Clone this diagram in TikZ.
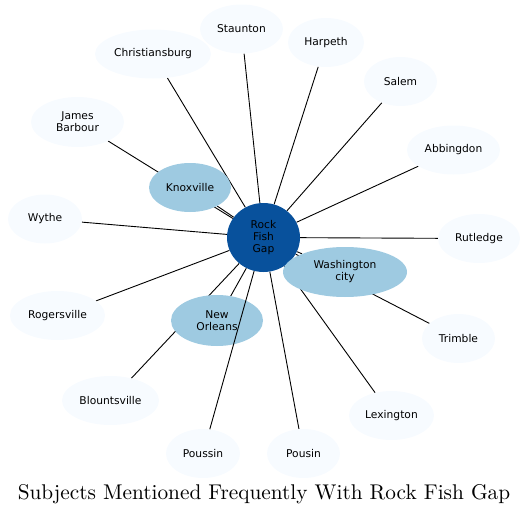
\documentclass[tikz,border=0pt]{standalone}
\usepackage{fontspec}
\newfontfamily\labelfont{DejaVu Sans}
\newfontfamily\titlefont{lmroman10-regular.otf}
\usetikzlibrary{shapes.geometric,backgrounds}
\definecolor{paleblue}{HTML}{F7FBFF}
\definecolor{midblue}{HTML}{9ECAE1}
\definecolor{darkblue}{HTML}{08519C}
\tikzset{
  subject/.style={ellipse,inner sep=0pt,align=center,fill=paleblue,minimum height=49pt,
    font=\labelfont\fontsize{10.7}{12}\selectfont},
  frequent/.style={subject,fill=midblue},
  hub/.style={subject,fill=darkblue},
  link/.style={black,line width=.9pt}
}
\begin{document}
\begin{tikzpicture}[x=1pt,y=-1pt]
			\useasboundingbox (0,0) rectangle (528,514);
			\node[hub,minimum width=73pt,minimum height=69pt] (rfg) at (263.5,237.5) {Rock\\Fish\\Gap};
			\node[frequent,minimum width=82pt] (knoxville) at (190,187.5) {Knoxville};
			\node[frequent,minimum width=124pt,minimum height=50pt] (washington) at (345,272) {Washington\\city};
			\node[frequent,minimum width=92pt,minimum height=51pt] (neworleans) at (217,320.5) {New\\Orleans};
			\node[subject,minimum width=83pt] (staunton) at (241.5,29) {Staunton};
			\node[subject,minimum width=116pt] (christiansburg) at (153,54) {Christiansburg};
			\node[subject,minimum width=76pt] (harpeth) at (326,42.5) {Harpeth};
			\node[subject,minimum width=73pt] (salem) at (400.5,81.5) {Salem};
			\node[subject,minimum width=93pt] (abbingdon) at (453.5,150) {Abbingdon};
			\node[subject,minimum width=93pt,minimum height=50pt] (barbour) at (77.5,122) {James\\Barbour};
			\node[subject,minimum width=74pt] (wythe) at (45,219) {Wythe};
			\node[subject,minimum width=82pt] (rutledge) at (479,238.5) {Rutledge};
			\node[subject,minimum width=95pt] (rogersville) at (57.5,315.5) {Rogersville};
			\node[subject,minimum width=73pt] (trimble) at (458.5,338.5) {Trimble};
			\node[subject,minimum width=97pt] (blountsville) at (110.5,400.5) {Blountsville};
			\node[subject,minimum width=85pt] (lexington) at (391.5,415.5) {Lexington};
			\node[subject,minimum width=74pt] (poussin) at (203,453.5) {Poussin};
			\node[subject,minimum width=73pt] (pousin) at (303.5,453.5) {Pousin};
			\begin{scope}[on background layer]
				\foreach \other in {knoxville,washington,neworleans,staunton,christiansburg,harpeth,salem,abbingdon,barbour,wythe,rutledge,rogersville,trimble,blountsville,lexington,pousin}
					\draw[link] (rfg) -- (\other);
			\end{scope}
			\draw[link] (rfg) -- (poussin);
			\node[anchor=base,font=\titlefont\fontsize{21.3}{24}\selectfont] (title) at (264,499) {Subjects Mentioned Frequently With Rock Fish Gap};
		\end{tikzpicture}
\end{document}
